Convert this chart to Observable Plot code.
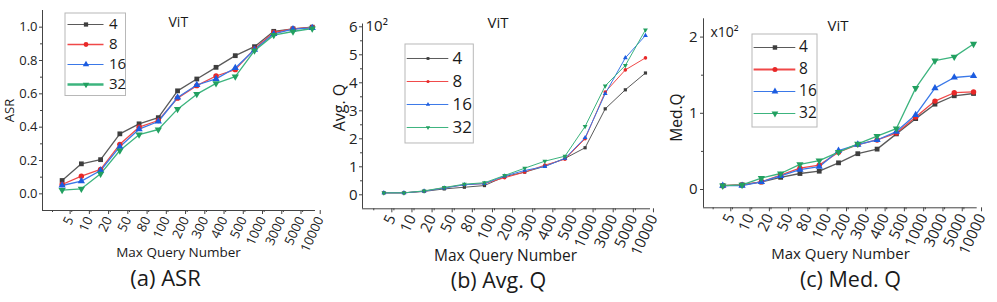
<!DOCTYPE html>
<html><head><meta charset="utf-8">
<script src="https://cdn.jsdelivr.net/npm/d3@7"></script>
<script src="https://cdn.jsdelivr.net/npm/@observablehq/plot@0.6"></script>
<style>
body{margin:0;background:#fff;}
#wrap{position:relative;width:997px;height:302px;overflow:hidden;background:#fff;}
.abs{position:absolute;}
</style></head><body><div id="wrap"></div>
<script>
// ---------- data ----------
const categories = ["5","10","20","50","80","100","200","300","400","500","1000","3000","5000","10000"];
const seriesNames = ["4","8","16","32"];

// (a) ASR
const asr4  = [0.080,0.180,0.205,0.360,0.420,0.457,0.618,0.689,0.759,0.829,0.883,0.975,0.990,1.000];
const asr8  = [0.056,0.106,0.147,0.297,0.400,0.440,0.574,0.649,0.707,0.745,0.870,0.968,0.990,0.998];
const asr16 = [0.050,0.076,0.140,0.283,0.388,0.434,0.578,0.653,0.690,0.755,0.865,0.960,0.988,0.996];
const asr32 = [0.022,0.030,0.120,0.260,0.355,0.386,0.508,0.598,0.663,0.703,0.859,0.952,0.974,0.992];

// (b) Avg. Q (x10^2)
const avg4  = [0.07,0.07,0.12,0.21,0.27,0.33,0.65,0.81,1.02,1.30,1.68,3.07,3.75,4.35];
const avg8  = [0.07,0.07,0.13,0.25,0.36,0.40,0.61,0.81,1.06,1.27,2.00,3.67,4.46,4.89];
const avg16 = [0.07,0.07,0.13,0.24,0.36,0.40,0.67,0.87,1.01,1.30,2.04,3.61,4.89,5.69];
const avg32 = [0.07,0.07,0.14,0.26,0.38,0.43,0.69,0.95,1.20,1.38,2.44,3.89,4.62,5.89];

// (c) Med. Q (x10^2)
const med4  = [0.05,0.06,0.10,0.16,0.21,0.24,0.35,0.47,0.53,0.73,0.93,1.12,1.23,1.26];
const med8  = [0.05,0.06,0.10,0.19,0.28,0.32,0.49,0.59,0.65,0.74,0.95,1.16,1.27,1.28];
const med16 = [0.05,0.05,0.10,0.18,0.26,0.30,0.51,0.59,0.65,0.76,0.98,1.33,1.47,1.49];
const med32 = [0.05,0.06,0.15,0.21,0.33,0.38,0.49,0.60,0.70,0.80,1.33,1.69,1.74,1.91];

const asrTicks = [0,0.2,0.4,0.6,0.8,1.0];
const avgTicks = [0,1,2,3,4,5,6];
const medTicks = [0,1,2];

// ---------- styles ----------
const lineColors   = ["#5a5a5a","#f04848","#3a78e8","#3cb47e"];
const markerColors = ["#3e3e3e","#e82828","#1c5ce0","#22a060"];
const triDown = {draw(ctx, size){ const y = -Math.sqrt(size/(Math.sqrt(3)*3)); ctx.moveTo(0,-y*2); ctx.lineTo(-Math.sqrt(3)*y, y); ctx.lineTo(Math.sqrt(3)*y, y); ctx.closePath(); }};
const symbols = ["square","circle","triangle",triDown];
const FONT = "'Open Sans', sans-serif";
const wrap = document.getElementById("wrap");

function rows(arr){ return arr.map((v,i)=>({x:i,y:v})); }

function panel(cfg){
  const marks = [
    Plot.ruleY([cfg.yDom[0]], {stroke:"#444", strokeWidth:1}),
    Plot.ruleX([cfg.xDom[0]], {stroke:"#444", strokeWidth:1}),
    Plot.axisY(cfg.yTicks, {tickFormat: cfg.yFmt, tickSize:3, tickPadding:cfg.yPad, fontSize:cfg.yFont, stroke:"#444", fill:"#222", label:null}),
    Plot.axisY(cfg.yMinor, {tickSize:2, stroke:"#444", fill:"none", label:null}),
    Plot.axisX(d3.range(categories.length), {tickFormat: i=>categories[i], tickSize:4, tickPadding:cfg.xPad, tickRotate:cfg.rot, textAnchor:"end", lineAnchor:"middle", dx:cfg.xdx, fontSize:cfg.xFont, stroke:"#444", fill:"#222", label:null}),
    Plot.axisX(d3.range(-0.5, categories.length-1, 1), {tickSize:2, stroke:"#444", fill:"none", label:null})
  ];
  cfg.series.forEach((arr,k)=>{
    marks.push(Plot.line(rows(arr), {x:"x", y:"y", stroke:lineColors[k], strokeWidth:cfg.sw}));
  });
  cfg.series.forEach((arr,k)=>{
    marks.push(Plot.dot(rows(arr), {x:"x", y:"y", symbol:symbols[k], r:cfg.r, fill:markerColors[k], stroke:"none"}));
  });
  const fx = gx => gx - cfg.left - cfg.mL;
  const fy = gy => gy - cfg.mT;
  cfg.texts.forEach(t=>{
    marks.push(Plot.text([t.s], {text:d=>d, frameAnchor:"top-left", dx:fx(t.x), dy:fy(t.y), fontSize:t.size, textAnchor:t.anchor||"start", rotate:t.rot||0, fill:"#1a1a1a", lineAnchor:"middle"}));
  });
  const chart = Plot.plot({
    width: cfg.width, height: 302,
    marginLeft: cfg.mL, marginRight: cfg.mR, marginTop: cfg.mT, marginBottom: cfg.mB,
    style: {fontFamily: FONT, background:"transparent", overflow:"visible"},
    x: {domain: cfg.xDom, label:null},
    y: {domain: cfg.yDom, label:null},
    marks
  });
  chart.classList.add("abs");
  chart.style.left = cfg.left + "px";
  chart.style.top = "0px";
  wrap.appendChild(chart);

  // legend
  const L = cfg.legend;
  const lm = [Plot.frame({stroke:"#b8b8b8", fill:"white", inset:0.5})];
  seriesNames.forEach((s,k)=>{
    lm.push(Plot.ruleY([s], {y:d=>d, x1:L.lx1, x2:L.lx2, stroke:lineColors[k], strokeWidth:L.sw[k]}));
    lm.push(Plot.dot([s], {y:d=>d, x:(L.lx1+L.lx2)/2, symbol:symbols[k], r:L.r, fill:markerColors[k], stroke:"none"}));
  });
  lm.push(Plot.text(seriesNames, {y:d=>d, x:L.tx, text:d=>d, textAnchor:"start", fontSize:L.font, fill:"#1a1a1a", lineAnchor:"middle"}));
  const leg = Plot.plot({
    width: L.w, height: L.h, margin:0,
    style:{fontFamily:FONT, background:"transparent", overflow:"visible"},
    x:{domain:[0,L.w], range:[0,L.w], axis:null},
    y:{type:"point", domain:seriesNames, range:L.ys, padding:0, axis:null},
    marks: lm
  });
  leg.classList.add("abs");
  leg.style.left = L.x + "px";
  leg.style.top = L.y + "px";
  wrap.appendChild(leg);
}

// (a)
panel({
  left:0, width:330, mL:42, mR:15, mT:10, mB:92,
  xDom:[-1.02,13.17], yDom:[-0.1,1.1],
  yTicks:asrTicks, yMinor:[0.1,0.3,0.5,0.7,0.9], yFmt:d3.format(".1f"), yFont:13, yPad:2,
  xFont:13, xPad:3, xdx:8, rot:-65,
  series:[asr4,asr8,asr16,asr32], sw:1.3, r:2.7,
  texts:[
    {s:"ASR", x:9, y:110, size:13, anchor:"middle", rot:-90},
    {s:"Max Query Number", x:178, y:252, size:13.5, anchor:"middle"},
    {s:"(a) ASR", x:165, y:278, size:22, anchor:"middle"},
    {s:"ViT", x:168, y:22, size:14}
  ],
  legend:{x:63.5, y:11.7, w:61.5, h:83.5, lx1:3.5, lx2:39.5, tx:44.5, ys:[11.6,72.3], font:15, r:2.4, sw:[1.2,1.5,1.2,2.4]}
});

// (b)
panel({
  left:330, width:330, mL:32, mR:10, mT:23.5, mB:93.7,
  xDom:[-1.06,13.25], yDom:[-0.5,6.1],
  yTicks:avgTicks, yMinor:[0.5,1.5,2.5,3.5,4.5,5.5], yFmt:d3.format("d"), yFont:15, yPad:2,
  xFont:15, xPad:3, xdx:8, rot:-65,
  series:[avg4,avg8,avg16,avg32], sw:1, r:1.8,
  texts:[
    {s:"Avg. Q", x:339, y:107, size:16, anchor:"middle", rot:-90},
    {s:"Max Query Number", x:505, y:256, size:15.5, anchor:"middle"},
    {s:"(b) Avg. Q", x:498, y:281, size:21.5, anchor:"middle"},
    {s:"ViT", x:487, y:23, size:15},
    {s:"10²", x:365, y:26, size:15}
  ],
  legend:{x:404, y:42.7, w:69.3, h:100, lx1:2.7, lx2:44.3, tx:48, ys:[14,85], font:17, r:1.6, sw:[1,1,1,1]}
});

// (c)
panel({
  left:660, width:337, mL:43, mR:20.3, mT:18.3, mB:94.7,
  xDom:[-1.0,13.19], yDom:[-0.24,2.24],
  yTicks:medTicks, yMinor:[0.5,1.5], yFmt:d3.format("d"), yFont:15, yPad:3,
  xFont:15, xPad:3, xdx:8, rot:-65,
  series:[med4,med8,med16,med32], sw:1.3, r:2.7,
  texts:[
    {s:"Med.Q", x:677, y:117, size:15.5, anchor:"middle", rot:-90},
    {s:"Max Query Number", x:840, y:254, size:15, anchor:"middle"},
    {s:"(c) Med. Q", x:850, y:279.5, size:21.5, anchor:"middle"},
    {s:"ViT", x:827, y:26, size:15},
    {s:"x10²", x:710, y:32, size:14}
  ],
  legend:{x:750.7, y:32.7, w:66, h:94, lx1:2.6, lx2:44.3, tx:47.6, ys:[13.3,81.6], font:15.5, r:2.5, sw:[1.2,2,1.2,1.2]}
});
</script></body></html>
